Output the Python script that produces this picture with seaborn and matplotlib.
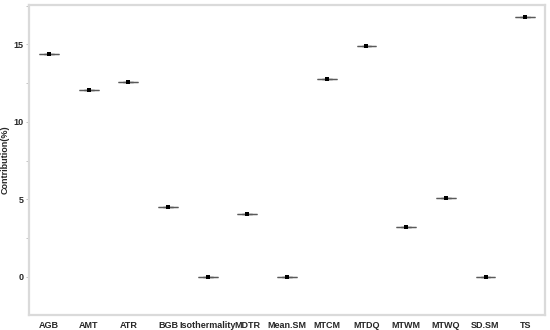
import pandas as pd
import matplotlib.pyplot as plt
import seaborn as sns
from matplotlib.ticker import MultipleLocator

# Variable contributions
variables = ["AGB", "AMT", "ATR", "BGB", "Isothermality", "MDTR", "Mean.SM",
             "MTCM", "MTDQ", "MTWM", "MTWQ", "SD.SM", "TS"]
contribution = [14.38, 12.05, 12.6, 4.52, 0.0, 4.06, 0.0,
                12.75, 14.91, 3.2, 5.08, 0.03, 16.77]

df = pd.DataFrame({
    "Variable": variables,
    "Contribution": contribution
})

sns.set_style("white")
plt.rcParams["font.family"] = ["Liberation Sans Narrow", "Liberation Sans", "DejaVu Sans"]
plt.rcParams["font.weight"] = "bold"

fig = plt.figure(figsize=(5.5, 3.3), dpi=100)
ax = fig.add_axes([0.053, 0.045, 0.938, 0.940])

# collapsed boxes -> short horizontal bar per variable
sns.boxplot(
    data=df,
    x="Variable",
    y="Contribution",
    width=0.5,
    color="white",
    linecolor="#5a5a5a",
    linewidth=0.9,
    ax=ax
)

sns.stripplot(
    data=df,
    x="Variable",
    y="Contribution",
    color="black",
    jitter=False,
    marker="s",
    size=2.6,
    ax=ax
)

ax.set_xlim(-0.5, 12.5)
ax.set_ylim(-2.46, 17.54)
ax.yaxis.set_major_locator(MultipleLocator(5))
ax.yaxis.set_minor_locator(MultipleLocator(2.5))

ax.set_xlabel("")
ax.set_ylabel("Contribution(%)", fontsize=6.5, fontweight="bold")
ax.yaxis.set_label_coords(-0.038, 0.5)

ax.tick_params(axis="y", which="both", left=True, length=2, width=0.6,
               color="#bbbbbb", labelsize=6.5, pad=2)
ax.tick_params(axis="x", bottom=False, labelsize=6.5, pad=0.5)
for lab in ax.get_xticklabels() + ax.get_yticklabels():
    lab.set_fontweight("bold")

for side in ax.spines.values():
    side.set_color("#dadada")
    side.set_linewidth(1.6)

plt.savefig("out.png", dpi=100)
